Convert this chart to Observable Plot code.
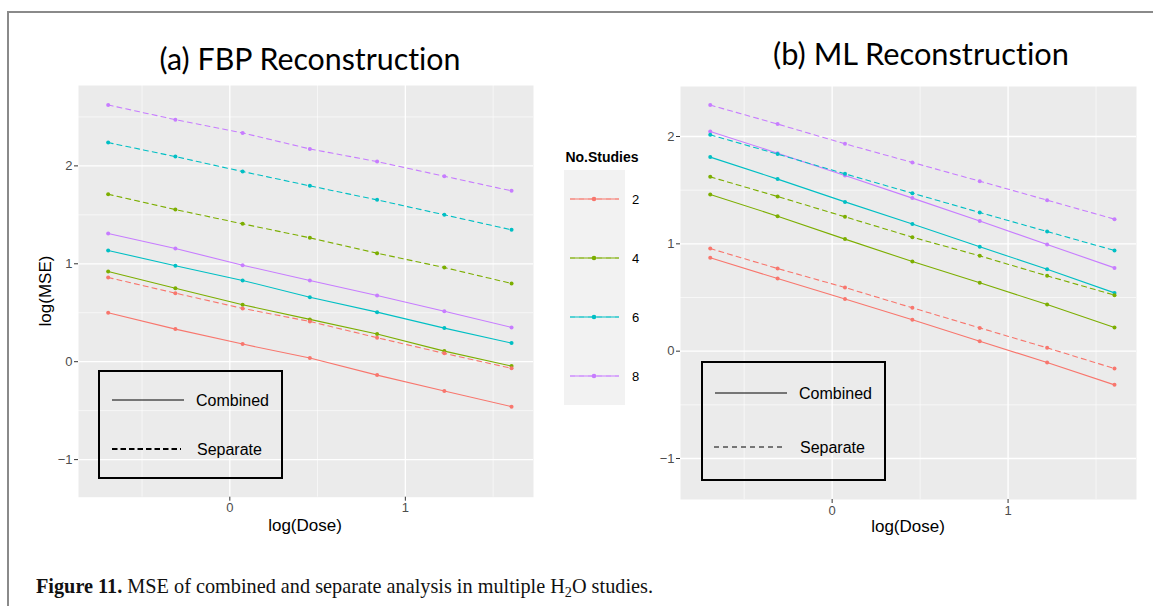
<!DOCTYPE html>
<html>
<head>
<meta charset="utf-8">
<script src="https://cdn.jsdelivr.net/npm/d3@7"></script>
<script src="https://cdn.jsdelivr.net/npm/@observablehq/plot@0.6"></script>
<style>
  html, body { margin: 0; padding: 0; background: #fff; }
  #root { position: relative; width: 1153px; height: 606px; overflow: hidden; font-family: "Liberation Sans", Arial, sans-serif; }
  .abs { position: absolute; white-space: nowrap; line-height: 1; }
  .ctr { transform: translate(-50%, -50%); }
  .title { font-family: Lato, "Open Sans", sans-serif; color: #000; font-variant-ligatures: none; }
  .axtitle { font-size: 17px; color: #000; }
  .ltbox { position: absolute; border: 2px solid #000; box-sizing: border-box; background: transparent; }
  .caption { font-family: "Liberation Serif", "DejaVu Serif", serif; color: #111; }
</style>
</head>
<body>
<div id="root"></div>
<script>
// ---------- data ----------
const logDose = [-0.693, -0.310, 0.073, 0.456, 0.839, 1.222, 1.605];
const studies = [2, 4, 6, 8];
const studyColors = ["#F8766D", "#7CAE00", "#00BFC4", "#C77CFF"];
const analysisTypes = ["Combined", "Separate"];

// (a) FBP reconstruction
const fbpCombined2 = [0.500, 0.333, 0.180, 0.037, -0.137, -0.300, -0.459];
const fbpCombined4 = [0.921, 0.751, 0.582, 0.432, 0.282, 0.108, -0.045];
const fbpCombined6 = [1.136, 0.980, 0.830, 0.659, 0.506, 0.343, 0.190];
const fbpCombined8 = [1.309, 1.156, 0.986, 0.830, 0.677, 0.516, 0.350];
const fbpSeparate2 = [0.860, 0.700, 0.544, 0.411, 0.245, 0.085, -0.068];
const fbpSeparate4 = [1.710, 1.554, 1.408, 1.265, 1.108, 0.962, 0.799];
const fbpSeparate6 = [2.238, 2.095, 1.942, 1.796, 1.653, 1.500, 1.347];
const fbpSeparate8 = [2.622, 2.472, 2.337, 2.173, 2.044, 1.894, 1.745];

// (b) ML reconstruction
const mlCombined2 = [0.870, 0.677, 0.487, 0.292, 0.093, -0.106, -0.314];
const mlCombined4 = [1.459, 1.258, 1.044, 0.835, 0.637, 0.434, 0.220];
const mlCombined6 = [1.808, 1.603, 1.391, 1.184, 0.972, 0.764, 0.543];
const mlCombined8 = [2.047, 1.845, 1.637, 1.426, 1.212, 0.994, 0.776];
const mlSeparate2 = [0.956, 0.770, 0.593, 0.404, 0.217, 0.031, -0.162];
const mlSeparate4 = [1.624, 1.441, 1.252, 1.062, 0.888, 0.702, 0.522];
const mlSeparate6 = [2.016, 1.836, 1.652, 1.472, 1.292, 1.115, 0.938];
const mlSeparate8 = [2.293, 2.116, 1.932, 1.758, 1.584, 1.407, 1.230];

const xTicks = [0, 1];
const xMinor = [-0.5, 0.5, 1.5];
const yTicks = [-1, 0, 1, 2];
const yMinorFBP = [-0.5, 0.5, 1.5, 2.5];
const yMinorML = [-0.5, 0.5, 1.5];

const panelTitles = ["(a) FBP Reconstruction", "(b) ML Reconstruction"];
const xLabel = "log(Dose)";
const yLabel = "log(MSE)";
const legendTitle = "No.Studies";

// ---------- build tables ----------
function rows(seriesByType) {
  const out = [];
  analysisTypes.forEach(t => {
    studies.forEach((s, i) => {
      seriesByType[t][i].forEach((v, j) => out.push({type: t, s, x: logDose[j], y: v}));
    });
  });
  return out;
}
const fbpRows = rows({
  Combined: [fbpCombined2, fbpCombined4, fbpCombined6, fbpCombined8],
  Separate: [fbpSeparate2, fbpSeparate4, fbpSeparate6, fbpSeparate8]
});
const mlRows = rows({
  Combined: [mlCombined2, mlCombined4, mlCombined6, mlCombined8],
  Separate: [mlSeparate2, mlSeparate4, mlSeparate6, mlSeparate8]
});

const root = document.getElementById("root");
const intFmt = d => (d < 0 ? "\u2212" : "") + Math.abs(d);

function panel(data, {yDomain, yMinor, left, width, marginLeft, marginRight, marginTop, height, marginBottom}) {
  const chart = Plot.plot({
    width, height, marginLeft, marginRight, marginTop, marginBottom,
    style: {fontFamily: "'Liberation Sans', Arial, sans-serif", fontSize: "13px", background: "transparent", overflow: "visible"},
    x: {domain: [-0.862, 1.73], label: null},
    y: {domain: yDomain, label: null},
    color: {type: "ordinal", domain: studies, range: studyColors},
    marks: [
      Plot.frame({fill: "#EBEBEB", stroke: null}),
      Plot.gridX(xMinor, {stroke: "#fff", strokeOpacity: 1, strokeWidth: 0.6}),
      Plot.gridY(yMinor, {stroke: "#fff", strokeOpacity: 1, strokeWidth: 0.6}),
      Plot.gridX(xTicks, {stroke: "#fff", strokeOpacity: 1, strokeWidth: 1.3}),
      Plot.gridY(yTicks, {stroke: "#fff", strokeOpacity: 1, strokeWidth: 1.3}),
      Plot.line(data.filter(d => d.type === "Combined"), {x: "x", y: "y", z: "s", stroke: "s", strokeWidth: 1.1}),
      Plot.line(data.filter(d => d.type === "Separate"), {x: "x", y: "y", z: "s", stroke: "s", strokeWidth: 1.1, strokeDasharray: "5,4"}),
      Plot.dot(data, {x: "x", y: "y", fill: "s", r: 2}),
      Plot.axisX(xTicks, {tickSize: 4, tickPadding: 2, stroke: "#333", fill: "#4D4D4D", label: null, tickFormat: intFmt}),
      Plot.axisY(yTicks, {tickSize: 4, tickPadding: 2, stroke: "#333", fill: "#4D4D4D", label: null, tickFormat: intFmt})
    ]
  });
  chart.style.position = "absolute";
  chart.style.left = left + "px";
  chart.style.top = "0px";
  root.appendChild(chart);
}

panel(fbpRows, {yDomain: [-1.384, 2.821], yMinor: yMinorFBP, left: 0, width: 545, marginLeft: 78, marginRight: 12, marginTop: 85, height: 540, marginBottom: 43.3});
panel(mlRows, {yDomain: [-1.382, 2.466], yMinor: yMinorML, left: 600, width: 545, marginLeft: 80, marginRight: 9, marginTop: 86, height: 540, marginBottom: 41});

// ---------- helpers ----------
function addText(txt, cls, x, y, opts = {}) {
  const el = document.createElement("div");
  el.className = "abs " + cls;
  if (opts.html) el.innerHTML = txt; else el.textContent = txt;
  el.style.left = x + "px";
  el.style.top = y + "px";
  if (opts.size) el.style.fontSize = opts.size + "px";
  if (opts.weight) el.style.fontWeight = opts.weight;
  if (opts.rotate) el.style.transform = "translate(-50%,-50%) rotate(-90deg)";
  root.appendChild(el);
  if (opts.fitWidth) {
    el.style.fontSize = "100px";
    const w = el.getBoundingClientRect().width;
    el.style.fontSize = (100 * opts.fitWidth / w) + "px";
  }
  return el;
}

// figure border (top + left edges visible)
const border = document.createElement("div");
border.style.cssText = "position:absolute;left:7px;top:11px;width:1300px;height:700px;border-top:2px solid #8a8a8a;border-left:2px solid #8a8a8a;";
root.appendChild(border);

// titles
addText(panelTitles[0], "title ctr", 310, 58, {fitWidth: 301});
addText(panelTitles[1], "title ctr", 921, 54, {fitWidth: 296});

// axis titles
addText(xLabel, "axtitle ctr", 305, 525);
addText(xLabel, "axtitle ctr", 908, 526);
addText(yLabel, "axtitle", 45, 291, {rotate: true});

// colour legend
addText(legendTitle, "ctr", 602, 157, {size: 14, weight: "bold"});
(function colourLegend() {
  const ns = "http://www.w3.org/2000/svg";
  const svg = document.createElementNS(ns, "svg");
  svg.setAttribute("width", 100); svg.setAttribute("height", 260);
  svg.style.position = "absolute"; svg.style.left = "560px"; svg.style.top = "165px";
  const bg = document.createElementNS(ns, "rect");
  bg.setAttribute("x", 4); bg.setAttribute("y", 5); bg.setAttribute("width", 61); bg.setAttribute("height", 235);
  bg.setAttribute("fill", "#F2F2F2");
  svg.appendChild(bg);
  studies.forEach((s, i) => {
    const cy = 34 + i * 59;
    const dl = document.createElementNS(ns, "line");
    dl.setAttribute("x1", 10); dl.setAttribute("x2", 59); dl.setAttribute("y1", cy); dl.setAttribute("y2", cy);
    dl.setAttribute("stroke", studyColors[i]); dl.setAttribute("stroke-width", 1.1); dl.setAttribute("stroke-dasharray", "5,4");
    dl.setAttribute("opacity", 0.6);
    svg.appendChild(dl);
    const l = document.createElementNS(ns, "line");
    l.setAttribute("x1", 10); l.setAttribute("x2", 59); l.setAttribute("y1", cy); l.setAttribute("y2", cy);
    l.setAttribute("stroke", studyColors[i]); l.setAttribute("stroke-width", 1.1);
    svg.appendChild(l);
    const c = document.createElementNS(ns, "circle");
    c.setAttribute("cx", 34); c.setAttribute("cy", cy); c.setAttribute("r", 2.3); c.setAttribute("fill", studyColors[i]);
    svg.appendChild(c);
    const t = document.createElementNS(ns, "text");
    t.setAttribute("x", 72); t.setAttribute("y", cy); t.setAttribute("dy", "0.35em");
    t.setAttribute("font-size", 13); t.setAttribute("font-family", "Liberation Sans, Arial, sans-serif");
    t.setAttribute("fill", "#000");
    t.textContent = String(s);
    svg.appendChild(t);
  });
  root.appendChild(svg);
})();

// line-type legends
function lineTypeLegend(box, items) {
  const ns = "http://www.w3.org/2000/svg";
  const d = document.createElement("div");
  d.className = "ltbox";
  d.style.left = box.x + "px"; d.style.top = box.y + "px";
  d.style.width = box.w + "px"; d.style.height = box.h + "px";
  root.appendChild(d);
  const svg = document.createElementNS(ns, "svg");
  svg.setAttribute("width", box.w); svg.setAttribute("height", box.h);
  svg.style.position = "absolute"; svg.style.left = box.x + "px"; svg.style.top = box.y + "px";
  items.forEach(it => {
    const l = document.createElementNS(ns, "line");
    l.setAttribute("x1", it.x1 - box.x); l.setAttribute("x2", it.x2 - box.x);
    l.setAttribute("y1", it.y - box.y); l.setAttribute("y2", it.y - box.y);
    l.setAttribute("stroke", "#000"); l.setAttribute("stroke-width", it.sw);
    if (it.dash) l.setAttribute("stroke-dasharray", it.dash);
    svg.appendChild(l);
    const t = document.createElementNS(ns, "text");
    t.setAttribute("x", it.tx - box.x); t.setAttribute("y", it.y - box.y); t.setAttribute("dy", "0.35em");
    t.setAttribute("font-size", 16); t.setAttribute("font-family", "Liberation Sans, Arial, sans-serif");
    t.textContent = it.label;
    svg.appendChild(t);
  });
  root.appendChild(svg);
}
lineTypeLegend({x: 98, y: 370, w: 185, h: 109}, [
  {label: analysisTypes[0], x1: 112, x2: 184, y: 400, tx: 196, sw: 1},
  {label: analysisTypes[1], x1: 112, x2: 181, y: 449, tx: 197, sw: 2, dash: "5.5,3"}
]);
lineTypeLegend({x: 701, y: 361, w: 185, h: 120}, [
  {label: analysisTypes[0], x1: 715, x2: 787, y: 393, tx: 799, sw: 1},
  {label: analysisTypes[1], x1: 714, x2: 784, y: 447, tx: 800, sw: 1, dash: "5,4"}
]);

// caption
const cap = addText('<b>Figure 11.</b> MSE of combined and separate analysis in multiple H<sub style="font-size:0.7em;vertical-align:-0.25em;line-height:0">2</sub>O studies.', "caption", 36, 576, {html: true, fitWidth: 617});
</script>
</body>
</html>
